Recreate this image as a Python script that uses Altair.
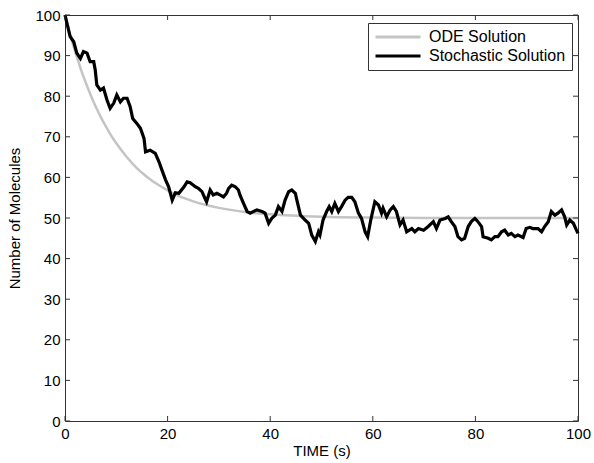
import altair as alt
import pandas as pd

# Deterministic (ODE) decay curve
ode_t = [0, 1, 2, 3, 4, 5, 6, 7, 8, 9, 10, 12, 14, 16, 18, 20, 22, 25, 30, 35, 40, 50, 60, 70, 80, 90, 100]
ode_n = [100, 95.2, 90.9, 87.0, 83.5, 80.3, 77.4, 74.8, 72.5, 70.3, 68.4, 65.1, 62.3, 60.1, 58.3,
         56.8, 55.5, 54.1, 52.5, 51.5, 50.9, 50.3, 50.1, 50.0, 50.0, 50.0, 50.0]

# One stochastic simulation run
sto_t = [0, 1.0, 1.7, 2.3, 3.0, 3.6, 4.3, 4.9, 5.6, 5.9, 6.2, 6.9, 7.5, 8.2, 8.8, 9.5, 10.1, 10.8,
         11.4, 12.1, 12.7, 13.2, 14.0, 14.7, 15.4, 15.7, 16.6, 17.6, 18.3, 18.9, 19.6, 20.2, 20.9,
         21.5, 22.2, 23.2, 23.8, 24.4, 25.4, 26.0, 26.7, 27.3, 27.6, 28.3, 28.9, 29.6, 30.2, 30.9,
         31.5, 31.9, 32.5, 33.2, 33.8, 34.1, 34.8, 35.5, 36.1, 37.4, 38.4, 39.0, 39.7, 40.3, 41.0,
         41.6, 42.3, 42.9, 43.6, 44.2, 44.9, 45.2, 45.9, 46.8, 47.5, 48.1, 48.8, 49.4, 49.7, 50.3,
         51.0, 51.5, 52.0, 52.6, 53.3, 53.9, 54.6, 55.2, 55.9, 56.5, 57.2, 57.8, 58.5, 59.0, 59.6,
         60.4, 61.1, 61.7, 62.0, 62.7, 63.4, 64.0, 64.6, 65.3, 65.9, 66.6, 67.6, 68.2, 68.9, 69.9,
         70.8, 71.8, 72.4, 73.1, 74.1, 74.7, 75.3, 76.0, 76.6, 77.3, 77.9, 78.6, 79.2, 79.9, 80.5,
         81.2, 81.5, 82.5, 83.1, 83.8, 84.4, 85.1, 85.7, 86.4, 87.0, 87.7, 88.3, 89.3, 89.9, 90.6,
         91.2, 92.2, 92.9, 93.5, 94.2, 94.8, 95.5, 96.1, 96.8, 97.4, 97.8, 98.4, 99.1, 99.7, 100]
sto_n = [100, 94.7, 93.4, 90.6, 89.3, 91.0, 90.6, 88.5, 88.5, 86.4, 82.8, 81.5, 82.0, 79.0, 77.0,
         78.3, 80.3, 78.6, 79.5, 79.5, 77.4, 74.5, 73.3, 72.1, 69.6, 66.3, 66.7, 65.9, 63.9, 61.8,
         59.4, 57.7, 54.4, 56.2, 56.1, 57.7, 58.9, 58.7, 57.7, 57.3, 56.5, 54.8, 54.0, 56.9, 55.7,
         56.1, 55.7, 55.2, 56.1, 57.3, 58.1, 57.7, 56.9, 55.7, 53.6, 51.6, 51.2, 52.0, 51.6, 51.2,
         48.7, 49.9, 50.7, 52.8, 51.6, 54.4, 56.5, 56.9, 56.1, 54.4, 50.7, 49.5, 48.7, 45.8, 44.2,
         46.6, 45.8, 49.5, 51.6, 52.8, 51.6, 53.6, 51.6, 52.8, 54.4, 55.1, 55.1, 54.0, 51.2, 49.9,
         46.6, 45.4, 49.5, 54.0, 53.2, 51.2, 52.4, 50.3, 52.0, 52.8, 51.6, 48.3, 49.5, 46.6, 47.4,
         46.6, 47.4, 47.0, 47.9, 49.1, 47.4, 49.5, 49.9, 50.3, 49.1, 47.9, 45.4, 44.6, 45.0, 47.9,
         49.1, 49.9, 49.1, 47.9, 45.4, 45.0, 44.6, 45.4, 45.4, 46.6, 47.0, 45.8, 46.2, 45.4, 45.8,
         45.2, 47.4, 47.7, 47.4, 47.4, 46.6, 47.9, 49.1, 51.6, 50.7, 51.2, 52.0, 50.3, 48.3, 49.5,
         48.7, 47.0, 46.2]

x_ticks = [0, 20, 40, 60, 80, 100]
y_ticks = [0, 10, 20, 30, 40, 50, 60, 70, 80, 90, 100]
series = ["ODE Solution", "Stochastic Solution"]

W, H = 513, 406
FONT = "Liberation Sans"
TICK = 5

ode_df = pd.DataFrame({"t": ode_t, "n": ode_n, "series": series[0]})
sto_df = pd.DataFrame({"t": sto_t, "n": sto_n, "series": series[1]})

xs = alt.Scale(domain=[0, 100], nice=False, zero=False)
ys = alt.Scale(domain=[0, 100], nice=False, zero=False)
x_axis = alt.Axis(values=x_ticks, titleY=22, titleBaseline="top", labelFlush=False)
y_axis = alt.Axis(values=y_ticks, titleX=-43, titleBaseline="bottom", labelFlush=False)
X_TITLE = "TIME (s)"
Y_TITLE = "Number of Molecules"

color = alt.Color(
    "series:N",
    scale=alt.Scale(domain=series, range=["#c4c4c4", "#000000"]),
    legend=alt.Legend(title=None, orient="none", legendX=303, legendY=8,
                      symbolType="stroke", symbolSize=2025, clipHeight=16,
                      symbolStrokeWidth=3, labelFont=FONT, labelFontSize=16,
                      labelColor="#000", labelOffset=7, padding=6,
                      rowPadding=3, strokeColor="#333", fillColor="white", offset=0),
)

ode_line = alt.Chart(ode_df).mark_line(strokeWidth=2.5, interpolate="monotone").encode(
    x=alt.X("t:Q", scale=xs, title=X_TITLE, axis=x_axis),
    y=alt.Y("n:Q", scale=ys, title=Y_TITLE, axis=y_axis),
    color=color,
)
sto_line = alt.Chart(sto_df).mark_line(strokeWidth=3.2, strokeJoin="miter").encode(
    x=alt.X("t:Q", scale=xs, title=X_TITLE, axis=x_axis),
    y=alt.Y("n:Q", scale=ys, title=Y_TITLE, axis=y_axis),
    color=color,
)

xt = pd.DataFrame({"v": x_ticks})
yt = pd.DataFrame({"v": y_ticks})
tick_style = dict(color="#333", strokeWidth=1)

bottom = alt.Chart(xt).mark_rule(**tick_style).encode(
    x=alt.X("v:Q", scale=xs, title=X_TITLE, axis=x_axis), y=alt.value(H), y2=alt.value(H - TICK))
top = alt.Chart(xt).mark_rule(**tick_style).encode(
    x=alt.X("v:Q", scale=xs, title=X_TITLE, axis=x_axis), y=alt.value(0), y2=alt.value(TICK))
left = alt.Chart(yt).mark_rule(**tick_style).encode(
    y=alt.Y("v:Q", scale=ys, title=Y_TITLE, axis=y_axis), x=alt.value(0), x2=alt.value(TICK))
right = alt.Chart(yt).mark_rule(**tick_style).encode(
    y=alt.Y("v:Q", scale=ys, title=Y_TITLE, axis=y_axis), x=alt.value(W), x2=alt.value(W - TICK))

chart = alt.layer(ode_line, sto_line, bottom, top, left, right).properties(
    width=W, height=H,
    autosize=alt.AutoSizeParams(type="none"),
    padding={"left": 65, "top": 15, "right": 16, "bottom": 42},
    background="white",
).configure_view(
    stroke="#333", strokeWidth=1
).configure_axis(
    grid=False, ticks=False, domain=False,
    labelFont=FONT, labelFontSize=15, labelColor="#000", labelPadding=5,
    titleFont=FONT, titleFontSize=15, titleFontWeight="normal", titleColor="#000",
)

chart.save("out.html", embed_options={"renderer": "svg", "actions": False})
